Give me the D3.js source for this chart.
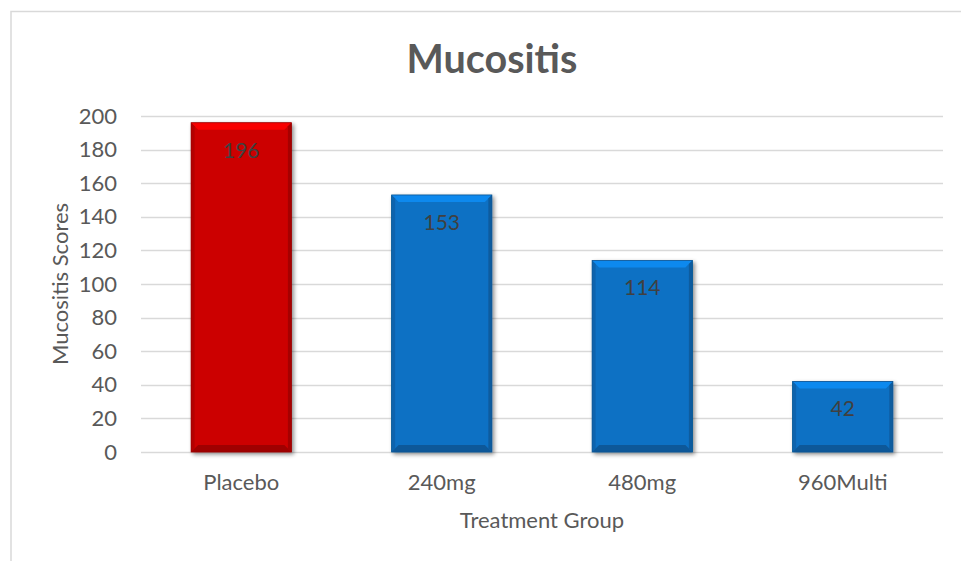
<!DOCTYPE html>
<html>
<head>
<meta charset="utf-8">
<script src="https://cdn.jsdelivr.net/npm/d3@7"></script>
<style>
  html, body { margin: 0; padding: 0; background: #fff; }
  svg { display: block; font-family: Lato, "Open Sans", sans-serif; }
</style>
</head>
<body>
<svg id="chart" width="961" height="561"></svg>
<script>
// Chart data
const categories = ["Placebo", "240mg", "480mg", "960Multi"];
const scores = [196, 153, 114, 42];
const barColors = ["#CC0000", "#0A71C4", "#0A71C4", "#0A71C4"];
const yTicks = [0, 20, 40, 60, 80, 100, 120, 140, 160, 180, 200];

const svg = d3.select("#chart");
const plot = { left: 141, right: 943, top: 116, bottom: 452 };
const labelSize = "22px";

// Outer chart frame (extends past the right and bottom edges)
svg.append("rect")
  .attr("x", 11).attr("y", 11.5)
  .attr("width", 980).attr("height", 600)
  .attr("fill", "#fff").attr("stroke", "#D9D9D9").attr("stroke-width", 1.5);

const x = d3.scaleBand().domain(categories)
  .range([plot.left, plot.right]).paddingInner(0.5).paddingOuter(0.25);
const y = d3.scaleLinear().domain([0, 200]).range([plot.bottom, plot.top]);

// Gridlines
svg.append("g").selectAll("line").data(yTicks).join("line")
  .attr("x1", plot.left).attr("x2", plot.right)
  .attr("y1", d => Math.round(y(d)) + 0.5).attr("y2", d => Math.round(y(d)) + 0.5)
  .attr("stroke", "#D9D9D9").attr("stroke-width", 1.3);

// Y axis tick labels
const yAxis = d3.axisLeft(y).tickValues(yTicks).tickSize(0).tickPadding(0);
const gy = svg.append("g").attr("transform", `translate(${plot.left - 24},0)`).call(yAxis);
gy.select(".domain").remove();
gy.selectAll("text")
  .attr("fill", "#595959").style("font-size", labelSize)
  .style("font-family", "Lato, 'Open Sans', sans-serif");

// Drop-shadow filter for bars
const defs = svg.append("defs");
const f = defs.append("filter").attr("id", "shadow")
  .attr("x", "-20%").attr("y", "-20%").attr("width", "140%").attr("height", "140%");
f.append("feGaussianBlur").attr("in", "SourceAlpha").attr("stdDeviation", 2.2).attr("result", "b");
f.append("feOffset").attr("in", "b").attr("dx", 1.5).attr("dy", 1.5).attr("result", "o");
f.append("feComponentTransfer").attr("in", "o").attr("result", "s")
  .append("feFuncA").attr("type", "linear").attr("slope", 0.45);
const m = f.append("feMerge");
m.append("feMergeNode").attr("in", "s");
m.append("feMergeNode").attr("in", "SourceGraphic");

// Bars with bevelled edges
const bw = x.bandwidth();
const bev = 7;
const bars = svg.append("g").selectAll("g").data(categories).join("g")
  .attr("filter", "url(#shadow)");

bars.each(function (c, i) {
  const g = d3.select(this);
  const x0 = x(c), x1 = x0 + bw;
  const y0 = y(scores[i]), y1 = y(0);
  const base = d3.color(barColors[i]);
  g.append("rect").attr("x", x0).attr("y", y0).attr("width", bw).attr("height", y1 - y0)
    .attr("fill", base);
  // top bevel (light)
  g.append("path")
    .attr("d", `M${x0},${y0}L${x1},${y0}L${x1 - bev},${y0 + bev}L${x0 + bev},${y0 + bev}Z`)
    .attr("fill", base.brighter(0.55));
  // left bevel
  g.append("path")
    .attr("d", `M${x0},${y0}L${x0 + bev * 0.5},${y0 + bev * 0.5}L${x0 + bev * 0.5},${y1 - bev * 0.5}L${x0},${y1}Z`)
    .attr("fill", base.darker(0.35));
  // right bevel
  g.append("path")
    .attr("d", `M${x1},${y0}L${x1 - bev * 0.5},${y0 + bev * 0.5}L${x1 - bev * 0.5},${y1 - bev * 0.5}L${x1},${y1}Z`)
    .attr("fill", base.darker(0.6));
  // bottom bevel
  g.append("path")
    .attr("d", `M${x0},${y1}L${x1},${y1}L${x1 - bev},${y1 - bev}L${x0 + bev},${y1 - bev}Z`)
    .attr("fill", base.darker(0.7));
  // outline
  g.append("rect").attr("x", x0).attr("y", y0).attr("width", bw).attr("height", y1 - y0)
    .attr("fill", "none").attr("stroke", base.darker(0.8)).attr("stroke-width", 0.8);
});

// Value labels inside bars
svg.append("g").selectAll("text").data(categories).join("text")
  .attr("x", c => x(c) + bw / 2)
  .attr("y", (c, i) => y(scores[i]) + 35)
  .attr("text-anchor", "middle")
  .attr("fill", "#404040").style("font-size", "21px")
  .text((c, i) => scores[i]);

// Category labels
const xAxis = d3.axisBottom(x).tickSize(0).tickPadding(0);
const gx = svg.append("g").attr("transform", `translate(0,${plot.bottom + 22})`).call(xAxis);
gx.select(".domain").remove();
gx.selectAll("text")
  .attr("fill", "#595959").style("font-size", labelSize)
  .style("font-family", "Lato, 'Open Sans', sans-serif");

// Axis titles
svg.append("text")
  .attr("x", (plot.left + plot.right) / 2).attr("y", 528)
  .attr("text-anchor", "middle").attr("fill", "#595959").style("font-size", labelSize)
  .text("Treatment Group");

svg.append("text")
  .attr("transform", `translate(68,${(plot.top + plot.bottom) / 2}) rotate(-90)`)
  .attr("text-anchor", "middle").attr("fill", "#595959").style("font-size", labelSize)
  .text("Mucositis Scores");

// Title
svg.append("text")
  .attr("x", 492).attr("y", 73)
  .attr("text-anchor", "middle").attr("fill", "#595959")
  .style("font-size", "39.5px").style("font-weight", "bold")
  .text("Mucositis");
</script>
</body>
</html>
